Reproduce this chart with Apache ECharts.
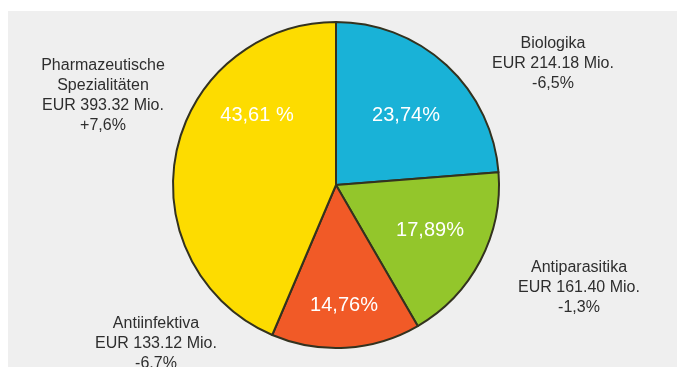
<!DOCTYPE html>
<html>
<head>
<meta charset="utf-8">
<script src="https://cdn.jsdelivr.net/npm/echarts@6/dist/echarts.min.js"></script>
<style>
html,body{margin:0;padding:0;background:#ffffff;}
#chart{width:677px;height:367px;}
</style>
</head>
<body>
<div id="chart"></div>
<script>
// Data
var categories = ['Biologika', 'Antiparasitika', 'Antiinfektiva', 'Pharmazeutische\nSpezialitäten'];
var values = [214.18, 161.40, 133.12, 393.32];
var valueTexts = ['214.18', '161.40', '133.12', '393.32'];
var changes = ['-6,5%', '-1,3%', '-6,7%', '+7,6%'];
var shareLabels = ['23,74%', '17,89%', '14,76%', '43,61 %'];
var colors = ['#19b2d7', '#93c62b', '#f15a27', '#fddc00'];

// label placement (layout only)
var innerPos = [[406, 115], [430, 230], [344, 305], [257, 115]];
var outerPos = [[553, 64], [579, 288], [156, 344], [103, 96]];

var chart = echarts.init(document.getElementById('chart'), null, {renderer: 'canvas'});

var pieData = categories.map(function (c, i) {
  return {name: c, value: values[i], itemStyle: {color: colors[i]}};
});
var outerData = categories.map(function (c, i) {
  return {name: c, value: values[i]};
});

var font = '"Liberation Sans", Arial, Helvetica, sans-serif';

chart.setOption({
  animation: false,
  backgroundColor: 'transparent',
  graphic: [{
    type: 'rect',
    z: -10,
    shape: {x: 8, y: 11, width: 669, height: 356},
    style: {fill: '#efefef'}
  }],
  series: [{
    type: 'pie',
    center: [336, 185],
    radius: 163,
    startAngle: 90,
    clockwise: true,
    data: pieData,
    itemStyle: {
      borderColor: '#33321f',
      borderWidth: 2
    },
    label: {
      show: true,
      position: 'inside',
      color: '#ffffff',
      fontSize: 20,
      fontFamily: font,
      formatter: function (p) { return shareLabels[p.dataIndex]; }
    },
    labelLine: {show: false},
    labelLayout: function (p) {
      var pos = innerPos[p.dataIndex];
      return {x: pos[0], y: pos[1], align: 'center', verticalAlign: 'middle'};
    },
    emphasis: {disabled: true}
  }, {
    type: 'pie',
    center: [336, 185],
    radius: 163,
    startAngle: 90,
    silent: true,
    z: 5,
    data: outerData,
    itemStyle: {color: 'rgba(0,0,0,0)', borderWidth: 0},
    label: {
      show: true,
      position: 'inside',
      color: '#2e2e2e',
      fontSize: 16,
      lineHeight: 20,
      align: 'center',
      overflow: 'none',
      fontFamily: font,
      formatter: function (p) {
        var i = p.dataIndex;
        return categories[i] + '\nEUR ' + valueTexts[i] + ' Mio.\n' + changes[i];
      }
    },
    labelLine: {show: false},
    labelLayout: function (p) {
      var pos = outerPos[p.dataIndex];
      return {x: pos[0], y: pos[1], align: 'center', verticalAlign: 'middle'};
    },
    emphasis: {disabled: true}
  }]
});
</script>
</body>
</html>
